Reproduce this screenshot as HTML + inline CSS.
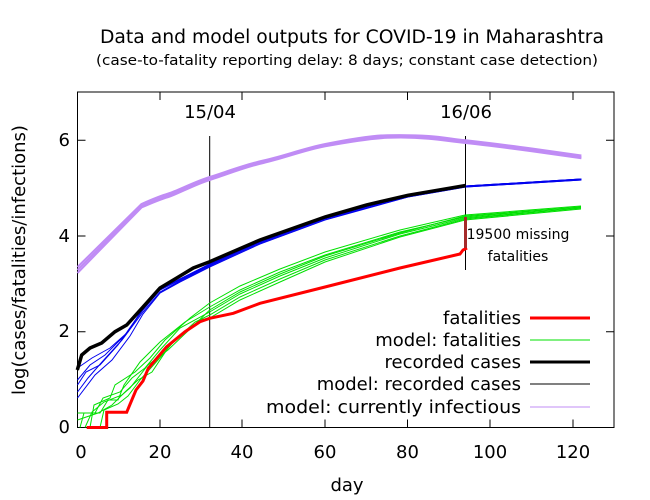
<!DOCTYPE html>
<html><head><meta charset="utf-8"><style>
body{margin:0;background:#fff}
svg{display:block;font-family:"DejaVu Sans","Liberation Sans",sans-serif}
</style></head><body>
<svg width="650" height="500" viewBox="0 0 650 500" xmlns="http://www.w3.org/2000/svg">
<text x="100" y="43" font-size="18.5" textLength="504" lengthAdjust="spacingAndGlyphs">Data and model outputs for COVID-19 in Maharashtra</text>
<text x="96" y="65" font-size="14.5" textLength="502" lengthAdjust="spacingAndGlyphs">(case-to-fatality reporting delay: 8 days; constant case detection)</text>
<g stroke="#000" stroke-width="1" fill="none">
<rect x="77.5" y="92" width="536.5" height="335.5"/>
<path d="M77.5 140.3h8M77.5 236h8M77.5 331.7h8M614 140.3h-8M614 236h-8M614 331.7h-8"/>
<path d="M160 427.5v-8M242 427.5v-8M325 427.5v-8M407.5 427.5v-8M490 427.5v-8M573 427.5v-8M160 92v8M242 92v8M325 92v8M407.5 92v8M490 92v8M573 92v8"/>
<path d="M209.7 136V427.5M465.5 136V270"/>
</g>
<g font-size="18" text-anchor="end">
<text x="70" y="146">6</text><text x="70" y="242">4</text><text x="70" y="337">2</text><text x="70" y="433">0</text>
</g>
<g font-size="18" text-anchor="middle">
<text x="81" y="458">0</text><text x="160" y="458">20</text><text x="242" y="458">40</text><text x="325" y="458">60</text><text x="407.5" y="458">80</text><text x="490" y="458">100</text><text x="573" y="458">120</text>
<text x="347" y="491">day</text>
<text x="210" y="118">15/04</text><text x="466" y="118">16/06</text>
</g>
<text transform="translate(25,260) rotate(-90)" font-size="18" text-anchor="middle">log(cases/fatalities/infections)</text>
<text x="518" y="239" font-size="14" text-anchor="middle">19500 missing</text>
<text x="518" y="261" font-size="14" text-anchor="middle">fatalities</text>
<!-- purple -->
<g fill="none" stroke="#c08cf5" stroke-width="2">
<path d="M77.5 270L141.5 205.9C155 200 160 198 168.4 195.3S195 183 209.7 178.6S245 166 263.4 161.8S305 149 325.3 145.1S370 137 387.3 136.5S415 136 428.6 137.4S450 140 465.7 141.7S510 147 531.8 149.9L581.4 157"/>
<path d="M77.5 267L141.5 204C155 198 160 196 168.4 193.5S195 181.5 209.7 177S245 164.5 263.4 160.5S305 148 325.3 144S370 135.5 387.3 135.2S415 135 428.6 136S450 138.5 465.7 140.3S510 145.5 531.8 148.5L581.4 155.5"/>
<path d="M77.5 273L141.5 207.5C155 201.5 160 199.5 168.4 197S195 184.5 209.7 180S245 167 263.4 163S305 150 325.3 146.3S370 138.5 387.3 137.8S415 137.5 428.6 138.8S450 141.3 465.7 143S510 148.3 531.8 151.2L581.4 158.3"/>
</g>
<!-- green model -->
<g fill="none" stroke="#00e000" stroke-width="1">
<path d="M77.5 413H100L108 400H118L124 385L140 362L160 342L185 322L209.7 307L240 290L280 272L325 255L400 232L465 217L581 207"/>
<path d="M80 427.5L84 413H95L103 398L120 392L132 378L145 368L160 350L180 328L209.7 312L240 294L280 276L325 258L400 234L465 218L581 208"/>
<path d="M90 427.5L94 405L110 398L115 385L135 372L150 358L165 340L190 318L209.7 303L240 286L280 269L325 252L400 230L465 215L581 206"/>
<path d="M77.5 420L98 413L112 405L125 392L138 380L152 372L170 345L195 322L209.7 315L240 297L280 279L325 260L400 236L465 219L581 208"/>
<path d="M85 427.5L92 412L104 402L122 395L130 388L148 365L168 350L190 329L209.7 310L240 292L280 274L325 256L400 233L465 216L581 207"/>
<path d="M100 427.5L104 410L118 404L128 396L140 380L158 360L175 340L200 320L209.7 318L240 300L280 282L325 262L400 237L465 220L581 209"/>
</g>
<!-- blue model -->
<g fill="none" stroke="#0000ee" stroke-width="1">
<path d="M77.5 380L90 365L105 355L125 335L143 310L160 290L180 279L209.7 264L260 242L325 218L407.9 196L465.7 186L581.4 179"/>
<path d="M77.5 392L88 378L102 362L122 340L143 312L160 292L180 281L209.7 266L260 243L325 219L407.9 197L465.7 187L581.4 180"/>
<path d="M77.5 368L92 358L110 348L128 332L143 308L160 289L180 279L209.7 265L260 241L325 218L407.9 196L465.7 186L581.4 179"/>
<path d="M77.5 398L95 375L112 360L130 336L143 314L160 293L180 282L209.7 267L260 244L325 220L407.9 197L465.7 187L581.4 180"/>
<path d="M77.5 385L86 372L100 365L118 345L143 309L160 290L180 280L209.7 265L260 242L325 218L407.9 196L465.7 186L581.4 179"/>
</g>
<!-- black recorded -->
<path d="M77.3 370L81.7 355L90 348L101.7 343L115 331.7L126.7 325L143.3 306.7L160 288L176.7 278L193.3 268L209.7 261.7L260 240L325.3 216.9L366.6 204.9L407.9 195.3L465.7 185.5" fill="none" stroke="#000" stroke-width="3.5"/>
<!-- red fatalities -->
<path d="M86.7 427.5H106.7V412.3H126.7L136 390L143 381L148.3 368.3L166.7 346.7L185 331.7L200 321.7L209.7 318.3L233.3 313.3L260 303.3L325 287L400 268L460 254L463 250L467 248" fill="none" stroke="#ff0000" stroke-width="3"/>
<path d="M465.5 248V217" stroke="#a52a2a" stroke-width="3"/>
<!-- legend -->
<g font-size="18" text-anchor="end">
<text x="521" y="324">fatalities</text>
<text x="521" y="346">model: fatalities</text>
<text x="521" y="368">recorded cases</text>
<text x="521" y="390">model: recorded cases</text>
<text x="521" y="413" textLength="255" lengthAdjust="spacingAndGlyphs">model: currently infectious</text>
</g>
<path d="M530 318H590" stroke="#ff0000" stroke-width="3"/>
<path d="M530 340H590" stroke="#00e000" stroke-width="1"/>
<path d="M530 362H590" stroke="#000" stroke-width="3"/>
<path d="M530 384H590" stroke="#000" stroke-width="1"/>
<path d="M530 407H590" stroke="#c08cf5" stroke-width="1"/>
</svg>
</body></html>
